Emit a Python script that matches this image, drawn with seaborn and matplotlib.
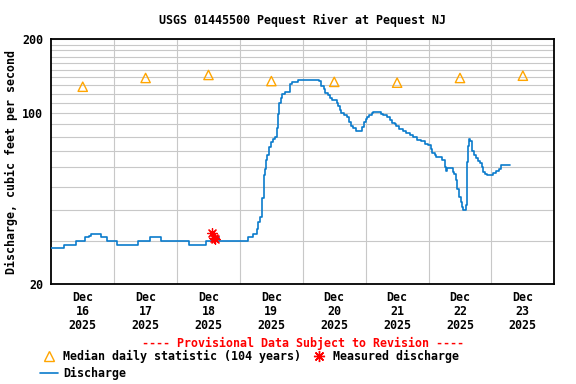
import numpy as np
import pandas as pd
import matplotlib
matplotlib.use("Agg")
import matplotlib.pyplot as plt
import matplotlib.dates as mdates
from matplotlib.lines import Line2D
from matplotlib.ticker import FixedLocator, NullFormatter
import seaborn as sns

start = pd.Timestamp("2025-12-16")

## Discharge readings (hours after Dec 16 00:00, cfs)
flow_hours = [0, 5, 9.25, 12.75, 14.25, 15, 19, 21.25, 25, 33.25, 37.5, 41.75,
              52.75, 59, 63, 64, 75, 77, 78.5, 79, 79.75, 80.25, 80.5, 81,
              81.25, 81.75, 82, 82.5, 83, 83.25, 84, 84.75, 85.5, 86, 86.5,
              86.75, 87, 87.5, 88, 89.25, 91, 92, 94, 102.25, 103, 104, 104.5,
              105.5, 106.25, 107, 109, 109.5, 110.25, 110.75, 111.75, 112.75,
              113.5, 114.5, 115.25, 116.25, 118.5, 119.25, 120, 120.5, 121.25,
              122.25, 122.75, 125.75, 126.75, 128, 129.25, 130, 131.25, 131.75,
              132.75, 134.25, 135.5, 137, 138, 139.5, 141.25, 142.5, 143.75,
              144.75, 145.5, 146.5, 147, 149.25, 150.25, 150.5, 151, 153.25,
              153.75, 154.5, 155, 155.75, 156.25, 156.75, 157.25, 158.25, 158.5,
              158.75, 159, 159.5, 160, 160.5, 160.75, 161.25, 162, 163, 163.5,
              164.25, 164.75, 165.5, 166.25, 168.75, 169.75, 171, 171.75, 172.5,
              175.25]
flow_cfs = [28, 29, 30, 31, 31.4, 32, 31, 30, 29, 30, 31, 30,
            29, 30, 31, 30, 31, 32, 33.5, 35.7, 37.6, 40.8, 44.9, 49,
            55.9, 59.2, 64.2, 67.4, 69.5, 72.6, 76.1, 78.6, 79.7, 86.6, 98.9,
            104.6, 109.5, 114.9, 120, 121.5, 131.5, 133.4, 137, 134.5, 129.3, 125.6, 120.5,
            118, 114.9, 113, 109.5, 106.7, 102.6, 100.1, 97.9, 96.2,
            91.7, 88.7, 86.8, 84.2, 87.5, 91.6, 94.3, 96.6, 98,
            100.1, 101, 99.4, 98, 96.1, 93.9, 91.2, 89.9, 88.6,
            86.1, 84.6, 83.1, 81.2, 79.8, 77.6, 76.5, 74.6, 74.1,
            71.5, 68.6, 67.5, 66.0, 64.4, 60.1, 58.1, 59.5, 57.3,
            56.4, 53.2, 49, 45.3, 43.3, 41.1, 40.3, 42.1, 50,
            62.9, 73.1, 78.6, 77, 73.3, 70.2, 67.6, 65.5, 63.6, 62.5,
            60.2, 57.3, 56.4, 55.6, 56.8, 58.1, 59.2, 61, 61.5,
            61.5]

## Median daily statistic, plotted at noon of each day
median_day = [0, 1, 2, 3, 4, 5, 6, 7]
median_cfs = [128, 139, 143, 135, 134, 133, 139, 142]

## Field measurements
meas_hours = [61.2, 62.0, 62.3]
meas_cfs = [32.2, 30.7, 30.6]

day_labels = ["Dec\n16\n2025", "Dec\n17\n2025", "Dec\n18\n2025", "Dec\n19\n2025",
              "Dec\n20\n2025", "Dec\n21\n2025", "Dec\n22\n2025", "Dec\n23\n2025"]

flow = pd.DataFrame({"time": start + pd.to_timedelta(flow_hours, unit="h"), "cfs": flow_cfs})
med = pd.DataFrame({"time": start + pd.to_timedelta(np.array(median_day) * 24 + 12, unit="h"),
                    "cfs": median_cfs})
meas = pd.DataFrame({"time": start + pd.to_timedelta(meas_hours, unit="h"), "cfs": meas_cfs})

sns.set_style("white")
plt.rcParams["font.family"] = "DejaVu Sans Mono"
plt.rcParams["font.weight"] = "bold"
plt.rcParams["font.size"] = 8.4
plt.rcParams["text.color"] = "black"
plt.rcParams["axes.labelcolor"] = "black"
plt.rcParams["axes.labelweight"] = "bold"
plt.rcParams["xtick.color"] = "black"
plt.rcParams["ytick.color"] = "black"

blue = "#0a7bcc"
orange = "#FFA500"

fig = plt.figure(figsize=(5.76, 3.84), dpi=100)
ax = fig.add_axes([51.3 / 576, 100 / 384, 503 / 576, 244.7 / 384])

sns.lineplot(data=flow, x="time", y="cfs", ax=ax, color=blue, linewidth=1.2,
             drawstyle="steps-post", estimator=None, sort=False, zorder=3)
sns.scatterplot(data=med, x="time", y="cfs", ax=ax, marker="^", s=45,
                facecolor="none", edgecolor=orange, linewidth=1.0, zorder=4)
sns.scatterplot(data=meas, x="time", y="cfs", ax=ax, marker=(8, 2, 0), s=50,
                color="red", edgecolor="red", linewidth=0.9, zorder=5)

# log axis 20-200
ax.set_yscale("log")
ax.set_ylim(20, 200)
ax.yaxis.set_major_locator(FixedLocator([20, 100, 200]))
ax.yaxis.set_major_formatter(plt.FixedFormatter(["20", "100", "200"]))
minor_y = [v for v in range(30, 200, 10) if v != 100]
ax.yaxis.set_minor_locator(FixedLocator(minor_y))
ax.yaxis.set_minor_formatter(NullFormatter())

# days: labels at noon, grid at midnight
t0 = mdates.date2num(start)
ax.set_xlim(t0, t0 + 8)
ax.set_xticks([t0 + d + 0.5 for d in median_day])
ax.set_xticklabels(day_labels, linespacing=1.1, fontweight="bold")
ax.set_xticks([t0 + d for d in range(1, 8)], minor=True)
for lab in ax.get_yticklabels():
    lab.set_fontweight("bold")

ax.grid(False)
ax.grid(True, which="minor", color="#c8c8c8", linewidth=0.8)
ax.grid(True, which="major", axis="y", color="#c8c8c8", linewidth=0.8)
ax.set_axisbelow(True)
ax.tick_params(which="both", length=0)
ax.tick_params(axis="y", pad=6)
ax.tick_params(axis="x", pad=5)

for s in ax.spines.values():
    s.set_color("black")
    s.set_linewidth(1.3)

ax.set_xlabel("")
ax.set_ylabel("Discharge, cubic feet per second", labelpad=3, fontweight="bold")

fig.text(302.8 / 576, 1 - 20 / 384, "USGS 01445500 Pequest River at Pequest NJ",
         ha="center", va="center", fontweight="bold")
fig.text(302.8 / 576, 1 - 343 / 384, "---- Provisional Data Subject to Revision ----",
         ha="center", va="center", color="red", fontweight="bold")

handles = [
    Line2D([], [], marker="^", linestyle="none", markersize=7, markerfacecolor="none",
           markeredgecolor=orange, markeredgewidth=1.0),
    Line2D([], [], color=blue, linewidth=1.2),
    Line2D([], [], marker=(8, 2, 0), linestyle="none", markersize=8, color="red",
           markeredgewidth=1.0),
]
labels = ["Median daily statistic (104 years)", "Discharge", "Measured discharge"]
fig.legend(handles, labels, ncol=2, loc="upper left", bbox_to_anchor=(40 / 576, 1 - 350 / 384),
           frameon=False, borderpad=0, borderaxespad=0, handlelength=1.55,
           handletextpad=0.45, columnspacing=0.7, labelspacing=0.35,
           prop={"weight": "bold", "size": 8.4})

fig.savefig("out.png", dpi=100)
